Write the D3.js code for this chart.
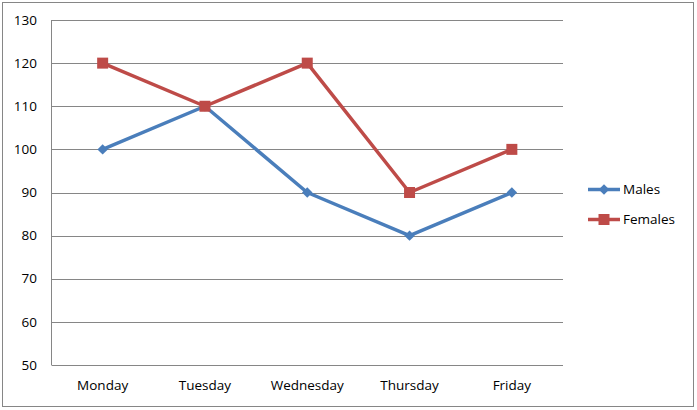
<!DOCTYPE html>
<html>
<head>
<meta charset="utf-8">
<script src="https://cdn.jsdelivr.net/npm/d3@7"></script>
<style>
  body { margin: 0; background: #fff; }
  text { font-family: "Open Sans", "Noto Sans", sans-serif; font-size: 13.5px; fill: #000; }
</style>
</head>
<body>
<svg width="697" height="410"></svg>
<script>
// data
const days = ["Monday", "Tuesday", "Wednesday", "Thursday", "Friday"];
const males = [100, 110, 90, 80, 90];
const females = [120, 110, 120, 90, 100];
const yTicks = [50, 60, 70, 80, 90, 100, 110, 120, 130];

const svg = d3.select("svg"),
    width = +svg.attr("width"),
    height = +svg.attr("height");

const grey = "#868686";
const plot = {left: 51.5, right: 563, top: 20, bottom: 365};

// outer border
svg.append("rect")
    .attr("x", 2.5).attr("y", 2.5)
    .attr("width", width - 6).attr("height", height - 6)
    .attr("fill", "none").attr("stroke", grey);

const x = d3.scaleBand().domain(days).range([plot.left, plot.right]).padding(0);
const y = d3.scaleLinear().domain([50, 130]).range([plot.bottom, plot.top]);

// gridlines
svg.append("g")
    .selectAll("line")
    .data(yTicks)
    .join("line")
      .attr("x1", plot.left).attr("x2", plot.right)
      .attr("y1", d => Math.round(y(d)) + 0.5)
      .attr("y2", d => Math.round(y(d)) + 0.5)
      .attr("stroke", grey);

// left axis line
svg.append("line")
    .attr("x1", plot.left).attr("x2", plot.left)
    .attr("y1", plot.top).attr("y2", plot.bottom)
    .attr("stroke", grey);

// y labels
svg.append("g")
    .selectAll("text")
    .data(yTicks)
    .join("text")
      .attr("x", 37)
      .attr("y", d => y(d))
      .attr("dy", "0.35em")
      .attr("text-anchor", "end")
      .text(d => d);

// x labels
svg.append("g")
    .selectAll("text")
    .data(days)
    .join("text")
      .attr("x", d => x(d) + x.bandwidth() / 2)
      .attr("y", 390)
      .attr("text-anchor", "middle")
      .text(d => d);

const cx = d => x(d) + x.bandwidth() / 2;
// diamond = square turned 45deg
const series = [
  {name: "Males", values: males, color: "#4A7EBB", size: 55, rot: 45},
  {name: "Females", values: females, color: "#BE4B48", size: 121, rot: 0}
];

const line = d3.line()
    .x((d, i) => cx(days[i]))
    .y(d => y(d));

series.forEach(s => {
  svg.append("path")
      .datum(s.values)
      .attr("d", line)
      .attr("fill", "none")
      .attr("stroke", s.color)
      .attr("stroke-width", 3.5)
      .attr("stroke-linejoin", "round");

  svg.append("g")
      .selectAll("path")
      .data(s.values)
      .join("path")
        .attr("transform", (d, i) => `translate(${cx(days[i])},${y(d)}) rotate(${s.rot})`)
        .attr("d", d3.symbol().type(d3.symbolSquare).size(s.size))
        .attr("fill", s.color);
});

// legend
const legend = svg.append("g")
    .selectAll("g")
    .data(series)
    .join("g")
      .attr("transform", (d, i) => `translate(588,${189.5 + i * 30})`);

legend.append("line")
    .attr("x1", 0).attr("x2", 32)
    .attr("stroke", d => d.color)
    .attr("stroke-width", 3.5);

legend.append("path")
    .attr("transform", d => `translate(16,0) rotate(${d.rot})`)
    .attr("d", d => d3.symbol().type(d3.symbolSquare).size(d.size)())
    .attr("fill", d => d.color);

legend.append("text")
    .attr("x", 35)
    .attr("dy", "0.35em")
    .text(d => d.name);
</script>
</body>
</html>
